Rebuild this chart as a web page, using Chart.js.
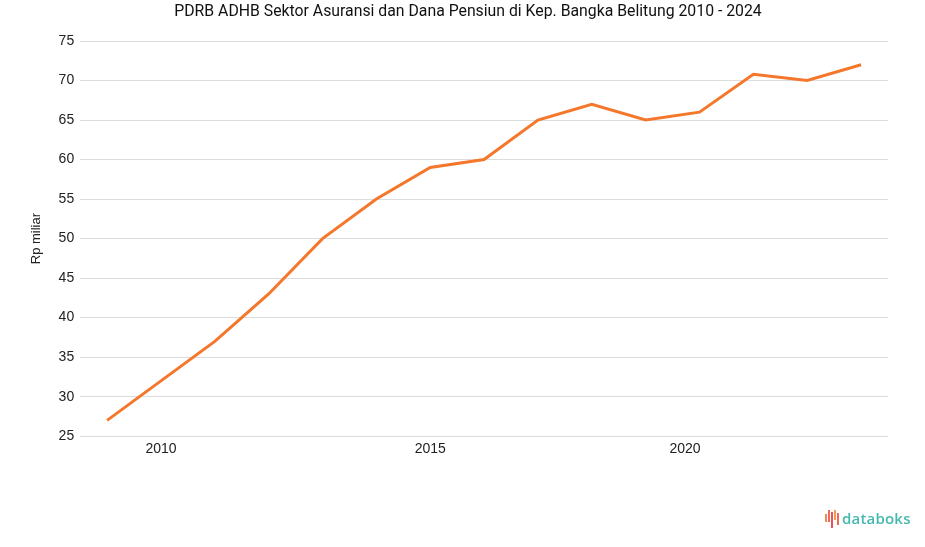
<!DOCTYPE html>
<html>
<head>
<meta charset="utf-8">
<script src="https://cdn.jsdelivr.net/npm/chart.js@4"></script>
<style>
  html, body { margin: 0; padding: 0; background: #fff; }
  #wrap { position: relative; width: 925px; height: 547px; }
  canvas { display: block; }
  #title { position: absolute; left: 468px; top: 1px; transform: translateX(-50%); white-space: nowrap; font-family: Roboto, sans-serif; font-size: 15.8px; color: #111; line-height: 19px; }
  #logo { position: absolute; left: 825px; top: 508px; height: 20px; display: flex; align-items: center; font-family: "Open Sans", "Noto Sans", sans-serif; }
  #logo .bars { display: flex; align-items: flex-start; height: 16px; margin-right: 2px; }
  #logo .bars span { display: inline-block; width: 2px; margin-right: 1px; }
  #logo .txt { font-size: 15px; font-weight: 600; color: #45b8b0; letter-spacing: 0.2px; }
</style>
</head>
<body>
<div id="wrap">
  <canvas id="c" width="925" height="547"></canvas>
  <div id="title"></div>
  <div id="logo">
    <div class="bars">
      <span style="height:8px;margin-top:4px;background:#f28b5b"></span>
      <span style="height:12px;margin-top:0px;background:#ee6b57"></span>
      <span style="height:16px;margin-top:2px;background:#e8505b"></span>
      <span style="height:10px;margin-top:0px;background:#f59a55"></span>
      <span style="height:12px;margin-top:3px;background:#ee6b57"></span>
    </div>
    <span class="txt">databoks</span>
  </div>
</div>
<script>
const titleText = 'PDRB ADHB Sektor Asuransi dan Dana Pensiun di Kep. Bangka Belitung 2010 - 2024';
const years = [2010, 2011, 2012, 2013, 2014, 2015, 2016, 2017, 2018, 2019, 2020, 2021, 2022, 2023, 2024];
const values = [27, 32, 37, 43, 50, 55, 59, 60, 65, 67, 65, 66, 70.8, 70, 72];
const xTickLabels = ['2010', '2015', '2020'];
const xTickPos = [1, 6, 10.73];
const yAxisTitle = 'Rp miliar';

document.getElementById('title').textContent = titleText;
const points = values.map((v, i) => ({ x: i, y: v }));

new Chart(document.getElementById('c'), {
  type: 'line',
  data: {
    datasets: [{
      label: 'PDRB ADHB',
      data: points,
      borderColor: '#f4772b',
      backgroundColor: '#f4772b',
      borderWidth: 3,
      pointRadius: 0,
      tension: 0,
      fill: false
    }]
  },
  options: {
    responsive: false,
    animation: false,
    devicePixelRatio: 1,
    layout: { padding: { left: 29, right: 37, top: 41, bottom: 84 } },
    plugins: {
      legend: { display: false },
      tooltip: { enabled: false },
      title: { display: false }
    },
    scales: {
      x: {
        type: 'linear',
        min: -0.5,
        max: years.length - 0.5,
        grid: { display: false, drawTicks: false },
        border: { display: false },
        afterBuildTicks: (axis) => { axis.ticks = xTickPos.map(v => ({ value: v })); },
        ticks: {
          autoSkip: false,
          maxRotation: 0,
          color: '#222',
          font: { family: 'Liberation Sans', size: 14 },
          padding: 5,
          callback: (value, index) => xTickLabels[index]
        }
      },
      y: {
        min: 25,
        max: 75,
        ticks: {
          stepSize: 5,
          color: '#222',
          font: { family: 'Liberation Sans', size: 14 },
          padding: 6
        },
        grid: { color: '#dcdcdc', drawTicks: false, lineWidth: 1 },
        border: { display: false },
        title: {
          display: true,
          text: yAxisTitle,
          color: '#222',
          font: { family: 'Liberation Sans', size: 13 },
          padding: { top: 0, bottom: 8 }
        }
      }
    }
  }
});
</script>
</body>
</html>
